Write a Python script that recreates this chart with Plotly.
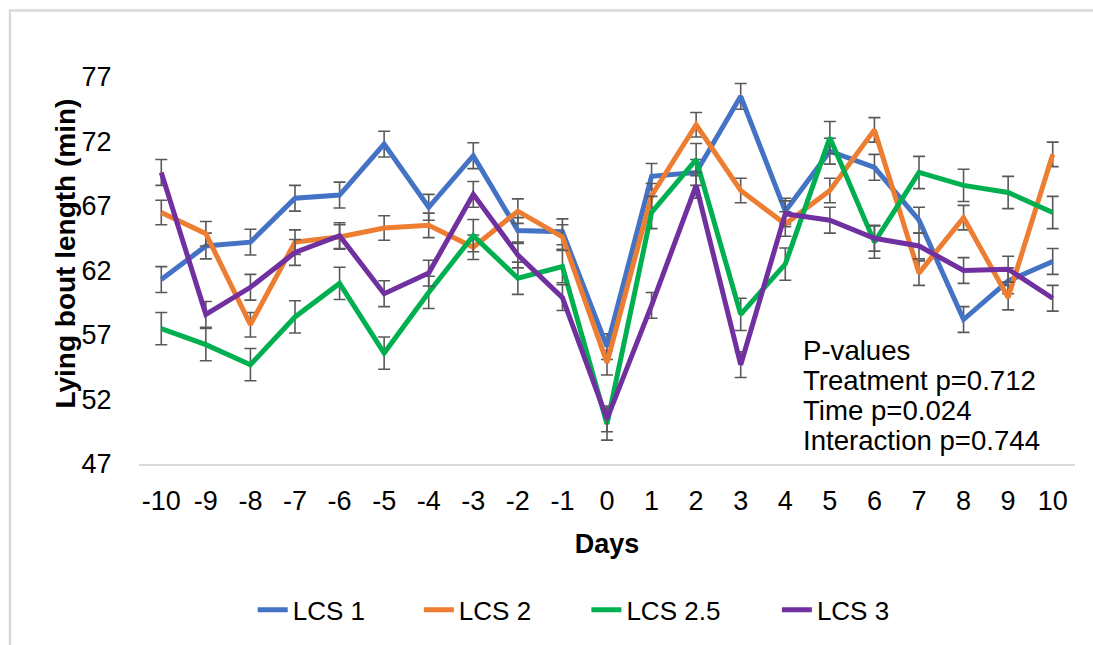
import plotly.graph_objects as go

# Days relative to event
days = [-10, -9, -8, -7, -6, -5, -4, -3, -2, -1, 0, 1, 2, 3, 4, 5, 6, 7, 8, 9, 10]

# Mean lying bout length (min) per group
lcs1 = [61.3, 63.9, 64.2, 67.6, 67.85, 71.8, 66.9, 70.9, 65.1, 65.0, 56.1,
        69.3, 69.6, 75.5, 66.6, 71.25, 70.0, 65.9, 58.2, 61.2, 62.7]
lcs2 = [66.5, 64.85, 57.8, 64.2, 64.6, 65.3, 65.5, 63.8, 66.6, 64.6, 54.85,
        67.8, 73.3, 68.2, 65.6, 68.2, 72.9, 61.8, 66.1, 59.9, 71.0]
lcs25 = [57.5, 56.25, 54.7, 58.4, 61.0, 55.6, 60.3, 64.7, 61.4, 62.3, 50.1,
         66.5, 70.6, 58.6, 62.5, 72.3, 64.2, 69.6, 68.6, 68.05, 66.5]
lcs3 = [69.6, 58.6, 60.7, 63.4, 64.7, 60.2, 61.8, 67.9, 63.2, 59.9, 50.5,
        59.3, 68.6, 54.7, 66.4, 65.9, 64.5, 63.9, 62.0, 62.1, 59.85]

# Standard errors
se1 = [1.0, 1.0, 1.0, 1.0, 1.0, 1.0, 1.0, 1.0, 1.0, 1.0, 1.0,
       1.0, 1.0, 1.0, 1.0, 1.0, 1.0, 1.0, 1.0, 1.0, 1.0]
se2 = [0.95, 0.95, 0.95, 0.95, 0.95, 0.95, 0.95, 0.95, 0.95, 0.95, 0.95,
       0.95, 0.95, 0.95, 0.95, 0.95, 0.95, 0.95, 0.95, 0.95, 0.95]
se25 = [1.25, 1.25, 1.25, 1.25, 1.25, 1.25, 1.25, 1.25, 1.25, 1.25, 1.25,
        1.25, 1.25, 1.25, 1.25, 1.25, 1.25, 1.25, 1.25, 1.25, 1.25]
se3 = [1.0, 1.0, 1.0, 1.0, 1.0, 1.0, 1.0, 1.0, 1.0, 1.0, 1.0,
       1.0, 1.0, 1.0, 1.0, 1.0, 1.0, 1.0, 1.0, 1.0, 1.0]

series_names = ["LCS 1", "LCS 2", "LCS 2.5", "LCS 3"]
y_ticks = [47, 52, 57, 62, 67, 72, 77]
stats_lines = ["P-values", "Treatment p=0.712", "Time p=0.024", "Interaction p=0.744"]

colors = ["#4472C4", "#ED7D31", "#00B050", "#7030A0"]
FONT = "Liberation Sans, Arial, sans-serif"

# one legend box per series so each entry can be placed on its own
legend_ids = ["legend", "legend2", "legend3", "legend4"]
legend_x = [0.1215, 0.2990, 0.4780, 0.6815]

fig = go.Figure()
for name, ys, se, col, lg in zip(series_names, [lcs1, lcs2, lcs25, lcs3],
                                 [se1, se2, se25, se3], colors, legend_ids):
    fig.add_trace(go.Scatter(
        x=days, y=ys, name=name, mode="lines", legend=lg,
        line=dict(color=col, width=5),
        error_y=dict(type="data", array=se, visible=True,
                     color="#595959", thickness=1.6, width=6),
    ))

# P-value text block
for i, line in enumerate(stats_lines):
    fig.add_annotation(
        text=line, xref="paper", yref="paper",
        x=0.7075, y=0.293 - i * 0.0778,
        xanchor="left", yanchor="middle", showarrow=False,
        font=dict(family=FONT, size=27.6, color="#000000"),
    )

# Y-axis title
fig.add_annotation(
    text="<b>Lying bout length (min)</b>", xref="paper", yref="paper",
    x=-0.078, y=0.5436, textangle=-90, showarrow=False,
    xanchor="center", yanchor="middle",
    font=dict(family=FONT, size=28, color="#000000"),
)

# Chart-area border
fig.add_shape(type="rect", xref="paper", yref="paper",
              x0=-0.1378, x1=1.2, y0=-0.6, y1=1.1718,
              line=dict(color="#D9D9D9", width=2.5), fillcolor="rgba(0,0,0,0)",
              layer="below")

legend_style = dict(orientation="h", y=-0.377, xanchor="left", yanchor="middle",
                    font=dict(family=FONT, size=26), bgcolor="rgba(0,0,0,0)")

fig.update_layout(
    width=1093, height=645,
    margin=dict(l=139, r=18, t=77, b=178),
    paper_bgcolor="white", plot_bgcolor="white",
    font=dict(family=FONT, size=27, color="#000000"),
    showlegend=True,
    legend=dict(x=legend_x[0], **legend_style),
    legend2=dict(x=legend_x[1], **legend_style),
    legend3=dict(x=legend_x[2], **legend_style),
    legend4=dict(x=legend_x[3], **legend_style),
    xaxis=dict(
        range=[-10.5, 10.5], tickmode="array", tickvals=days,
        ticktext=[str(d) for d in days],
        showgrid=False, zeroline=False,
        showline=True, linecolor="#D9D9D9", linewidth=2,
        ticks="outside", ticklen=0, ticklabelstandoff=12,
        tickfont=dict(family=FONT, size=27),
        title=dict(text="<b>Days</b>", font=dict(family=FONT, size=27),
                   standoff=19),
    ),
    yaxis=dict(
        range=[47, 77], tickmode="array", tickvals=y_ticks,
        showgrid=False, zeroline=False, showline=False,
        ticks="outside", ticklen=0, ticklabelstandoff=21,
        tickfont=dict(family=FONT, size=27),
    ),
)

fig.write_html("out.html")
